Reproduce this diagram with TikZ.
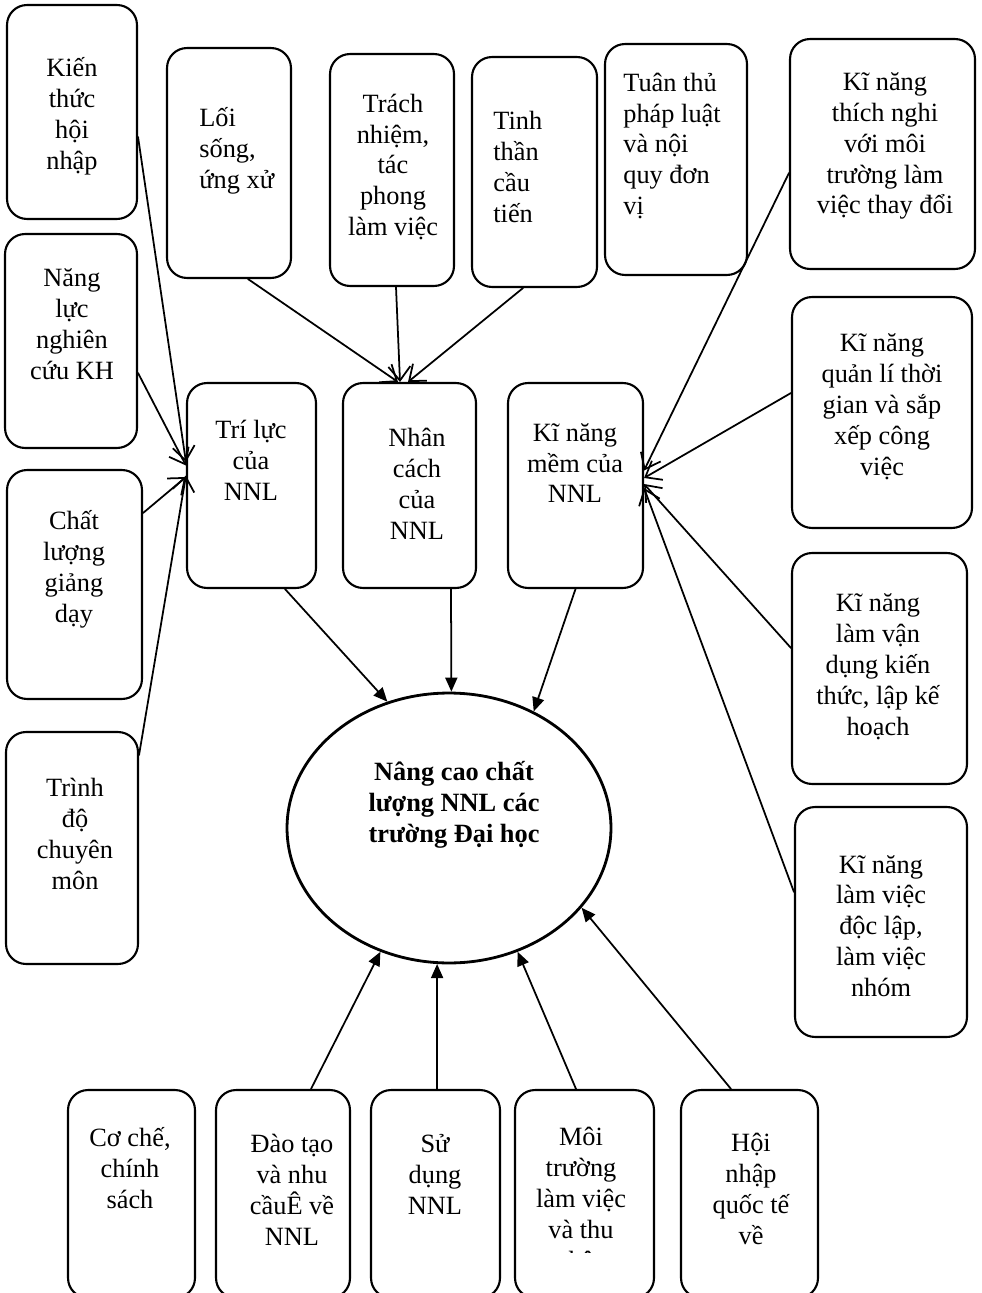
\documentclass[tikz,border=0pt]{standalone}
\usepackage{fontspec}
\setmainfont{Liberation Serif}
\usetikzlibrary{arrows.meta,shapes.geometric}
\def\cochu{\fontsize{15}{17.6}\selectfont}
\begin{document}
\begin{tikzpicture}[x=0.02cm, y=-0.02cm, >={Straight Barb[length=2.8mm,width=4.4mm]}, font=\cochu, line join=round, line cap=round,
		hop/.style={draw, rounded corners=4mm, line width=1.2pt},
		chu/.style={align=center, inner sep=0pt, font=\cochu},
		muiten/.style={->, line width=1pt},
		muidac/.style={-{Triangle[length=2.8mm,width=2.4mm]}, line width=1pt}]
		\useasboundingbox (0,0) rectangle (982,1293);
		%Cột bên trái
		\node[hop, minimum width=2.6cm, minimum height=4.28cm] (kienthuc) at (72,112) {};
		\node[chu] (kienthuc-t) at (72,116) {Kiến\\thức\\hội\\nhập};
		\node[hop, minimum width=2.64cm, minimum height=4.28cm] (nangluc) at (71,341) {};
		\node[chu] (nangluc-t) at (72,324) {Năng\\lực\\nghiên\\cứu KH};
		\node[hop, minimum width=2.7cm, minimum height=4.58cm] (chatluong) at (74.5,584.5) {};
		\node[chu] (chatluong-t) at (74,569) {Chất\\lượng\\giảng\\dạy};
		\node[hop, minimum width=2.64cm, minimum height=4.64cm] (trinhdo) at (72,848) {};
		\node[chu] (trinhdo-t) at (75,834) {Trình\\độ\\chuyên\\môn};
		%Hàng trên
		\node[hop, minimum width=2.48cm, minimum height=4.6cm] (loisong) at (229,163) {};
		\node[chu, align=left, anchor=west] (loisong-t) at (199,151) {Lối\\sống,\\ứng xử};
		\node[hop, minimum width=2.48cm, minimum height=4.64cm] (trachnhiem) at (392,170) {};
		\node[chu] (trachnhiem-t) at (393,167) {Trách\\nhiệm,\\tác\\phong\\làm việc};
		\node[hop, minimum width=2.5cm, minimum height=4.6cm] (tinhthan) at (534.5,172) {};
		\node[chu, align=left, anchor=west] (tinhthan-t) at (493,167) {Tinh\\thần\\cầu\\tiến};
		\node[hop, minimum width=2.84cm, minimum height=4.62cm] (tuanthu) at (676,159.5) {};
		\node[chu, align=left, anchor=west] (tuanthu-t) at (623,146) {Tuân thủ\\pháp luật\\và nội\\quy đơn\\vị};
		%Cột bên phải
		\node[hop, minimum width=3.7cm, minimum height=4.6cm] (thichnghi) at (882.5,154) {};
		\node[chu] (thichnghi-t) at (885,146) {Kĩ năng\\thích nghi\\với môi\\trường làm\\việc thay đổi};
		\node[hop, minimum width=3.6cm, minimum height=4.62cm] (quanly) at (882,412.5) {};
		\node[chu] (quanly-t) at (882,407) {Kĩ năng\\quản lí thời\\gian và sắp\\xếp công\\việc};
		\node[hop, minimum width=3.5cm, minimum height=4.62cm] (vandung) at (879.5,668.5) {};
		\node[chu] (vandung-t) at (878,667) {Kĩ năng\\làm vận\\dụng kiến\\thức, lập kế\\hoạch};
		\node[hop, minimum width=3.44cm, minimum height=4.6cm] (doclap) at (881,922) {};
		\node[chu] (doclap-t) at (881,926) {Kĩ năng\\làm việc\\độc lập,\\làm việc\\nhóm};
		%Ba hộp giữa
		\node[hop, minimum width=2.58cm, minimum height=4.1cm] (triluc) at (251.5,485.5) {};
		\node[chu] (triluc-t) at (251,460) {Trí lực\\của\\NNL};
		\node[hop, minimum width=2.66cm, minimum height=4.1cm] (nhancach) at (409.5,485.5) {};
		\node[chu] (nhancach-t) at (417,484) {Nhân\\cách\\của\\NNL};
		\node[hop, minimum width=2.7cm, minimum height=4.1cm] (kynang) at (575.5,485.5) {};
		\node[chu] (kynang-t) at (575,463) {Kĩ năng\\mềm của\\NNL};
		%Mục tiêu
		\node[draw, ellipse, line width=1.6pt, minimum width=6.48cm, minimum height=5.4cm, inner sep=0pt] (muctieu) at (449,828) {};
		\node[chu, font=\cochu\bfseries] (muctieu-t) at (454,805) {Nâng cao chất\\lượng NNL các\\trường Đại học};
		%Hàng dưới
		\node[hop, minimum width=2.54cm, minimum height=4.16cm] (coche) at (131.5,1194) {};
		\node[chu] (coche-t) at (130,1168) {Cơ chế,\\chính\\sách};
		\node[hop, minimum width=2.68cm, minimum height=4.16cm] (daotao) at (283,1194) {};
		\node[chu] (daotao-t) at (292,1190) {Đào tạo\\và nhu\\cầuÊ về\\NNL};
		\node[hop, minimum width=2.58cm, minimum height=4.16cm] (sudung) at (435.5,1194) {};
		\node[chu] (sudung-t) at (435,1174) {Sử\\dụng\\NNL};
		\node[hop, minimum width=2.78cm, minimum height=4.16cm] (moitruong) at (584.5,1194) {};
		\begin{scope}
			\clip (515,1100) rectangle (654,1252);
			\node[chu] (moitruong-t) at (581,1201) {Môi\\trường\\làm việc\\và thu\\nhập};
		\end{scope}
		\node[hop, minimum width=2.74cm, minimum height=4.16cm] (hoinhap) at (749.5,1194) {};
		\node[chu] (hoinhap-t) at (751,1189) {Hội\\nhập\\quốc tế\\về};
		%Mũi tên vào Trí lực
		\draw[muiten] ([yshift=-0.5cm]kienthuc.east) -- ([yshift=0.47cm]triluc.west);
		\draw[muiten] ([yshift=-0.64cm]nangluc.east) -- ([yshift=0.4cm]triluc.west);
		\draw[muiten] ([yshift=1.43cm]chatluong.east) -- ([yshift=0.17cm]triluc.west);
		\draw[muiten] ([yshift=1.86cm]trinhdo.east) -- ([yshift=0.2cm]triluc.west);
		%Mũi tên vào Nhân cách
		\draw[muiten] ([xshift=0.38cm]loisong.south) -- ([xshift=-0.23cm]nhancach.north);
		\draw[muiten] ([xshift=0.08cm]trachnhiem.south) -- ([xshift=-0.19cm]nhancach.north);
		\draw[muiten] ([xshift=-0.23cm]tinhthan.south) -- ([xshift=-0.03cm]nhancach.north);
		%Mũi tên vào Kĩ năng mềm
		\draw[muiten] ([yshift=-0.38cm]thichnghi.west) -- ([yshift=0.3cm]kynang.east);
		\draw[muiten] ([yshift=0.39cm]quanly.west) -- ([yshift=0.15cm]kynang.east);
		\draw[muiten] ([yshift=0.41cm]vandung.west) -- ([yshift=0.03cm]kynang.east);
		\draw[muiten] ([yshift=0.6cm]doclap.west) -- ([yshift=-0.05cm]kynang.east);
		%Mũi tên vào mục tiêu
		\draw[muidac] ([xshift=0.67cm]triluc.south) -- (muctieu.116);
		\draw[muidac] ([xshift=0.83cm]nhancach.south) -- (muctieu.89);
		\draw[muidac] (kynang.south) -- (muctieu.54);
		\draw[muidac] ([xshift=0.56cm]daotao.north) -- (muctieu.241);
		\draw[muidac] ([xshift=0.03cm]sudung.north) -- (muctieu.265);
		\draw[muidac] ([xshift=-0.17cm]moitruong.north) -- (muctieu.-61);
		\draw[muidac] ([xshift=-0.37cm]hoinhap.north) -- (muctieu.-31);
\end{tikzpicture}
\end{document}
